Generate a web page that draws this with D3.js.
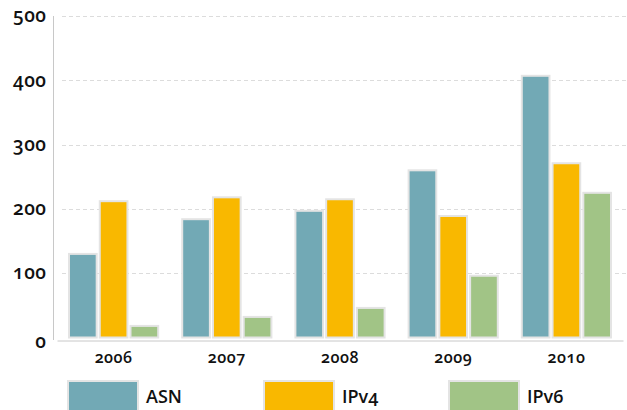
<!DOCTYPE html>
<html>
<head>
<meta charset="utf-8">
<script src="https://cdn.jsdelivr.net/npm/d3@7"></script>
<style>
  body { margin: 0; background: #fff; }
  text { font-family: "Open Sans", "Lato", sans-serif; font-variant-numeric: oldstyle-nums; fill: #111; }
</style>
</head>
<body>
<div id="chart"></div>
<script>
// Chart data
const years = ["2006", "2007", "2008", "2009", "2010"];
const seriesNames = ["ASN", "IPv4", "IPv6"];
const asnValues = [130, 184, 197, 260, 407];
const ipv4Values = [212, 218, 215, 189, 271];
const ipv6Values = [18, 32, 46, 96, 225];
const yTicks = [0, 100, 200, 300, 400, 500];

const colors = ["#72a9b5", "#f9b800", "#a1c486"];
const allValues = [asnValues, ipv4Values, ipv6Values];

const width = 627, height = 410;

const svg = d3.select("#chart").append("svg")
    .attr("width", width)
    .attr("height", height);

// Scales
const x = d3.scaleBand().domain(years).range([57, 623]).paddingInner(0).paddingOuter(0);
const xInner = d3.scaleBand().domain(seriesNames).range([12, x.bandwidth() - 12]).paddingInner(0.1);
const y = d3.scaleLinear().domain([0, 500]).range([337.5, 16]);

// Grid lines
svg.append("g")
    .selectAll("line")
    .data(yTicks.filter(d => d > 0))
    .join("line")
    .attr("x1", 62)
    .attr("x2", width)
    .attr("y1", d => Math.round(y(d)) + 0.5)
    .attr("y2", d => Math.round(y(d)) + 0.5)
    .attr("stroke", "#dcdcdc")
    .attr("stroke-dasharray", "4,3");

// Y axis
const yAxis = svg.append("g")
    .attr("transform", "translate(53.5,0)")
    .call(d3.axisLeft(y).tickValues(yTicks).tickSize(0).tickPadding(7));
yAxis.select(".domain").attr("stroke", "#c8c8c8").attr("d", "M0,16V340");
yAxis.selectAll("text")
    .attr("font-size", 19)
    .attr("font-weight", 600)
    .attr("letter-spacing", "0.5px")
    .attr("dy", "0.3em");
yAxis.selectAll(".tick").filter(d => d === 0).select("text").attr("dy", "0.5em");

// X axis
const xAxis = svg.append("g")
    .attr("transform", "translate(0,340.5)")
    .call(d3.axisBottom(x).tickSize(0).tickPadding(11));
xAxis.select(".domain").attr("stroke", "#c8c8c8");
xAxis.selectAll("text")
    .attr("font-size", 16)
    .attr("font-weight", 600)
    .attr("letter-spacing", "0.5px");

// Bars
const groups = svg.append("g")
    .selectAll("g")
    .data(years)
    .join("g")
    .attr("transform", d => `translate(${x(d)},0)`);

groups.selectAll("rect")
    .data((d, i) => seriesNames.map((s, j) => ({ series: s, value: allValues[j][i], idx: j })))
    .join("rect")
    .attr("x", d => xInner(d.series))
    .attr("y", d => y(d.value))
    .attr("width", xInner.bandwidth())
    .attr("height", d => y(0) - y(d.value))
    .attr("fill", d => colors[d.idx])
    .attr("stroke", "#e4e4e4")
    .attr("stroke-width", 2);

// Legend
const legendX = [68, 264, 449];
const legend = svg.append("g")
    .selectAll("g")
    .data(seriesNames)
    .join("g")
    .attr("transform", (d, i) => `translate(${legendX[i]},381)`);

legend.append("rect")
    .attr("width", 70)
    .attr("height", 40)
    .attr("fill", (d, i) => colors[i])
    .attr("stroke", "#e4e4e4")
    .attr("stroke-width", 2);

legend.append("text")
    .attr("x", 78)
    .attr("y", 22)
    .attr("font-size", 18)
    .attr("font-weight", 600)
    .text(d => d);
</script>
</body>
</html>
